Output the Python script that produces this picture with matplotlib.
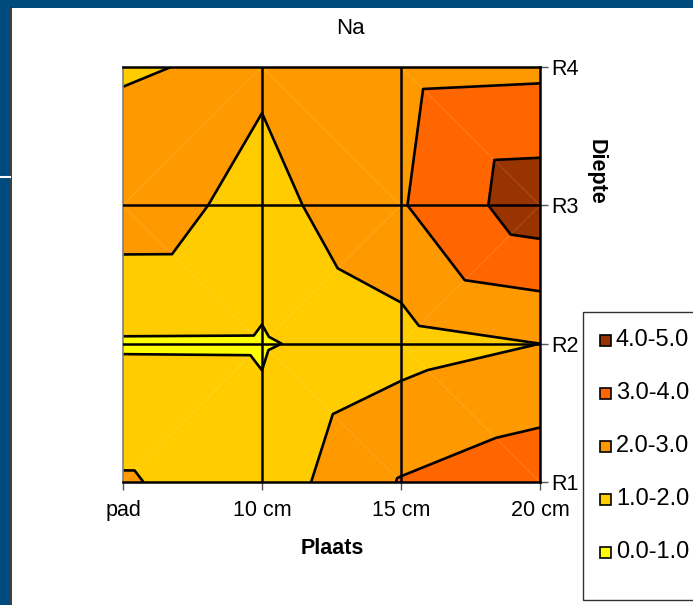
import numpy as np
import matplotlib
matplotlib.use("Agg")
import matplotlib.pyplot as plt
import matplotlib.tri as mtri
from matplotlib.patches import Rectangle
from matplotlib.lines import Line2D

plt.rcParams['font.family'] = ['Liberation Sans', 'DejaVu Sans']

# Places along the x axis and depths along the y axis
places = ["pad", "10 cm", "15 cm", "20 cm"]
depths = ["R1", "R2", "R3", "R4"]

# Na values per depth row (columns follow `places`)
na_r1 = [2.10, 1.42, 3.06, 3.65]
na_r2 = [0.91, 0.90, 1.61, 2.00]
na_r3 = [2.60, 1.62, 2.92, 4.64]
na_r4 = [1.90, 2.19, 2.69, 2.78]

band_edges = [0, 1, 2, 3, 4, 5]
band_labels = ["0.0-1.0", "1.0-2.0", "2.0-3.0", "3.0-4.0", "4.0-5.0"]
band_colors = ["#FFFF00", "#FFCC00", "#FF9900", "#FF6600", "#993300"]

# How each grid cell is cut into two triangles (rows bottom to top)
cell_split = [["/", "\\", "\\"],
              ["\\", "/", "/"],
              ["/", "\\", "\\"]]

W, H = 693, 605
BLUE = "#004B7E"


def fx(x):
    return x / W


def fy(y):
    return 1 - y / H


fig = plt.figure(figsize=(W / 100, H / 100), dpi=100)
fig.patch.set_facecolor(BLUE)
fig.patches.append(Rectangle((fx(10), 0), 1 - fx(10), fy(7.5), transform=fig.transFigure,
                             facecolor="white", edgecolor="none", zorder=-5))
fig.lines.append(Line2D([fx(10.5), fx(10.5)], [0, fy(7.5)], transform=fig.transFigure,
                        color="#1a1a1a", lw=1.2, zorder=-4))
fig.lines.append(Line2D([0, fx(9.5)], [fy(177), fy(177)], transform=fig.transFigure,
                        color="white", lw=1.5, zorder=-4))

ax = fig.add_axes([fx(123), fy(482), fx(540) - fx(123), fy(67) - fy(482)], zorder=1)
ax.patch.set_alpha(0)

nx, ny = len(places), len(depths)
gx = np.tile(np.arange(nx), ny).astype(float)
gy = np.repeat(np.arange(ny), nx).astype(float)
z = np.concatenate([na_r1, na_r2, na_r3, na_r4])

triangles = []
diagonals = []
for j, row in enumerate(cell_split):
    for i, cut in enumerate(row):
        bl, br = j * nx + i, j * nx + i + 1
        tl, tr = (j + 1) * nx + i, (j + 1) * nx + i + 1
        if cut == "/":
            triangles += [[bl, br, tr], [bl, tr, tl]]
            diagonals.append((bl, tr))
        else:
            triangles += [[bl, br, tl], [br, tr, tl]]
            diagonals.append((tl, br))
tri = mtri.Triangulation(gx, gy, triangles)

ax.tricontourf(tri, z, levels=band_edges, colors=band_colors, zorder=1)
for a, b in diagonals:
    ax.plot([gx[a], gx[b]], [gy[a], gy[b]], color="white", alpha=0.16, lw=0.6, zorder=1.5)
ax.tricontour(tri, z, levels=band_edges[1:-1], colors="black", linewidths=1.9, zorder=2)

for v in range(1, nx - 1):
    ax.axvline(v, color="black", lw=1.8, zorder=3)
for v in range(1, ny - 1):
    ax.axhline(v, color="black", lw=1.8, zorder=3)

ax.set_xlim(0, nx - 1)
ax.set_ylim(0, ny - 1)
ax.set_xticks(range(nx))
ax.set_xticklabels(places)
ax.set_yticks(range(ny))
ax.set_yticklabels(depths)
ax.yaxis.tick_right()
ax.tick_params(axis="both", direction="out", length=6, width=1, colors="#555555",
               labelcolor="black", labelsize=15.5)
ax.tick_params(axis="x", pad=7)
ax.tick_params(axis="y", pad=2)
for side in ["top", "right", "bottom"]:
    ax.spines[side].set_color("black")
    ax.spines[side].set_linewidth(1.8)
ax.spines["left"].set_color("#808080")
ax.spines["left"].set_linewidth(1.2)

fig.text(fx(350), fy(28), "Na", ha="center", va="center", fontsize=16)
fig.text(fx(332), fy(549), "Plaats", ha="center", va="center", fontsize=15.5,
         fontweight="bold")
fig.text(fx(596), fy(172), "Diepte", ha="center", va="center", fontsize=15.5,
         fontweight="bold", rotation=270)

# Legend box with one entry per band, highest band on top
fig.patches.append(Rectangle((fx(583), fy(600)), fx(120), fy(312) - fy(600),
                             transform=fig.transFigure, facecolor="white",
                             edgecolor="#333333", lw=1, zorder=2))
entry_y = [552, 499, 446, 393, 340]
for lab, col, ey in zip(band_labels, band_colors, entry_y):
    fig.patches.append(Rectangle((fx(600), fy(ey + 5.5)), fx(11), fy(ey - 5.5) - fy(ey + 5.5),
                                 transform=fig.transFigure, facecolor=col,
                                 edgecolor="black", lw=1.2, zorder=3))
    fig.text(fx(616), fy(ey), lab, ha="left", va="center", fontsize=17, zorder=3)

fig.savefig("out.png", dpi=100, facecolor=fig.get_facecolor())
